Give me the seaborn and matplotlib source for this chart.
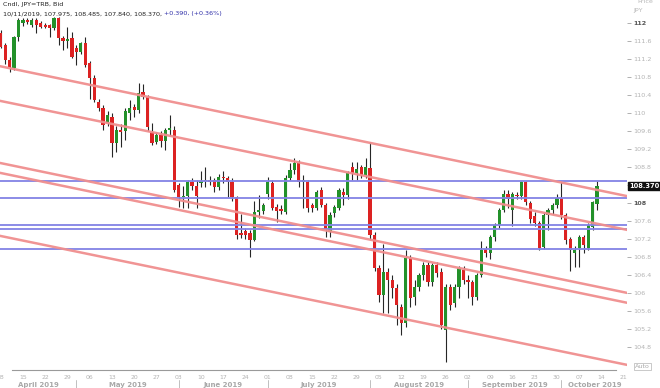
import numpy as np
import pandas as pd
import matplotlib
matplotlib.use("Agg")
import matplotlib.pyplot as plt
import seaborn as sns

sns.set_style("white")
plt.rcParams['font.family'] = ['DejaVu Sans']

# ---- daily candles, 08 Apr 2019 .. 11 Oct 2019 (weekday index) ----
opens = [111.78, 111.51, 111.18, 111.00, 111.69, 112.00, 112.07, 111.96, 112.07, 112.00,
         111.95, 111.95, 111.89, 112.11, 111.67, 111.60, 111.67, 111.44, 111.36, 111.56,
         111.11, 110.78, 110.24, 110.11, 109.78, 109.90, 109.33, 109.62, 109.60, 110.00,
         110.13, 110.06, 110.47, 110.36, 109.58, 109.36, 109.51, 109.38, 109.62, 109.62,
         108.40, 108.13, 108.15, 108.47, 108.38, 108.45, 108.48, 108.50, 108.50, 108.36,
         108.58, 108.55, 108.47, 108.13, 107.33, 107.38, 107.33, 107.18, 107.80, 107.82,
         108.20, 108.44, 107.91, 107.87, 107.80, 108.56, 108.73, 108.89, 108.47, 108.47,
         107.95, 107.89, 108.29, 107.96, 107.36, 107.78, 107.89, 108.24, 108.18, 108.80,
         108.67, 108.80, 108.62, 108.78, 107.30, 106.56, 105.96, 106.47, 106.29, 106.11,
         105.69, 105.33, 106.78, 105.91, 106.13, 106.40, 106.62, 106.24, 106.62, 106.47,
         105.18, 106.13, 105.78, 106.13, 106.51, 106.29, 106.24, 105.91, 106.40, 106.97,
         106.88, 107.24, 107.51, 107.84, 108.20, 107.85, 108.18, 108.15, 108.47, 108.00,
         107.72, 107.56, 107.02, 107.73, 107.84, 107.96, 108.11, 107.73, 107.20, 106.90,
         107.00, 107.24, 107.00, 107.47, 107.975]
highs = [111.85, 111.55, 111.25, 111.72, 112.11, 112.12, 112.12, 112.10, 112.10, 112.05,
         112.00, 111.98, 112.14, 112.14, 111.72, 111.90, 111.80, 111.50, 111.58, 111.69,
         111.15, 110.85, 110.32, 110.18, 110.05, 110.00, 109.70, 109.75, 110.10, 110.28,
         110.20, 110.67, 110.65, 110.40, 109.78, 109.58, 109.60, 109.66, 109.96, 109.70,
         108.45, 108.38, 108.50, 108.56, 108.50, 108.70, 108.80, 108.60, 108.55, 108.65,
         108.70, 108.60, 108.55, 108.15, 107.75, 107.45, 107.40, 108.05, 108.18, 108.00,
         108.58, 108.50, 107.98, 107.95, 108.62, 108.89, 109.00, 108.95, 108.62, 108.52,
         108.00, 108.30, 108.35, 108.00, 107.80, 107.95, 108.33, 108.33, 108.72, 108.90,
         108.90, 108.85, 109.00, 109.36, 107.35, 106.62, 107.10, 106.55, 106.40, 106.20,
         105.75, 106.96, 106.85, 106.30, 106.45, 106.68, 106.68, 106.67, 106.70, 106.55,
         106.20, 106.20, 106.20, 106.60, 106.60, 106.40, 106.30, 106.45, 107.15, 107.05,
         107.30, 107.55, 107.90, 108.30, 108.30, 108.25, 108.25, 108.49, 108.49, 108.05,
         107.80, 107.60, 107.80, 107.90, 108.00, 108.20, 108.47, 107.78, 107.25, 107.05,
         107.30, 107.30, 107.55, 108.05, 108.485]
lows = [111.44, 111.09, 110.91, 110.95, 111.60, 111.93, 111.98, 111.90, 111.78, 111.88,
        111.88, 111.69, 111.85, 111.52, 111.40, 111.45, 111.22, 111.07, 111.30, 111.02,
        110.31, 110.25, 110.05, 109.62, 109.70, 109.02, 109.13, 109.25, 109.40, 109.85,
        109.90, 110.00, 110.30, 109.60, 109.28, 109.30, 109.25, 109.18, 109.50, 108.25,
        107.91, 107.90, 107.90, 108.30, 107.90, 108.36, 108.35, 108.40, 108.25, 108.30,
        108.45, 108.13, 108.05, 107.20, 107.23, 107.20, 106.80, 107.15, 107.67, 107.75,
        108.10, 107.85, 107.58, 107.75, 107.75, 108.50, 108.65, 108.36, 107.90, 107.80,
        107.80, 107.85, 107.92, 107.24, 107.24, 107.70, 107.85, 107.96, 108.10, 108.50,
        108.50, 108.55, 108.55, 107.20, 106.50, 105.80, 105.55, 105.55, 105.90, 105.29,
        105.07, 105.25, 105.70, 105.73, 106.05, 106.30, 106.15, 106.15, 106.35, 105.20,
        104.47, 105.62, 105.70, 105.90, 106.20, 105.90, 105.73, 105.85, 106.35, 106.80,
        106.75, 107.15, 107.45, 107.80, 107.90, 107.50, 108.10, 108.10, 107.95, 107.55,
        107.50, 106.95, 106.98, 107.40, 107.75, 107.90, 107.65, 107.10, 106.50, 106.58,
        106.58, 106.90, 106.95, 107.40, 107.840]
closes = [111.47, 111.18, 111.02, 111.69, 112.07, 112.07, 112.02, 112.07, 111.96, 111.91,
          111.91, 111.89, 112.11, 111.67, 111.60, 111.65, 111.24, 111.36, 111.56, 111.07,
          110.78, 110.29, 110.11, 109.73, 109.96, 109.33, 109.62, 109.58, 110.05, 110.10,
          110.06, 110.44, 110.36, 109.69, 109.33, 109.51, 109.38, 109.62, 109.66, 108.29,
          108.13, 108.16, 108.47, 108.38, 108.16, 108.48, 108.50, 108.47, 108.36, 108.58,
          108.55, 108.47, 108.13, 107.29, 107.30, 107.29, 107.18, 107.80, 107.84, 107.96,
          108.47, 107.89, 107.82, 107.82, 108.56, 108.73, 108.89, 108.47, 108.50, 107.89,
          107.89, 108.24, 107.96, 107.40, 107.73, 107.91, 108.29, 108.18, 108.67, 108.67,
          108.75, 108.62, 108.80, 107.30, 106.56, 105.96, 106.47, 106.29, 106.11, 105.73,
          105.33, 106.78, 105.88, 106.13, 106.40, 106.62, 106.24, 106.62, 106.44, 105.29,
          106.13, 105.73, 106.13, 106.56, 106.29, 106.24, 105.91, 106.40, 106.95, 106.90,
          107.24, 107.51, 107.84, 108.20, 108.10, 108.20, 108.15, 108.47, 108.02, 107.65,
          107.55, 107.00, 107.73, 107.84, 107.96, 108.11, 107.73, 107.18, 106.96, 106.95,
          107.24, 107.07, 107.51, 108.02, 108.370]

# ---- annotations ----
hline_levels = [108.49, 108.11, 107.51, 107.42, 106.98]
trend_start_day = -0.16
trend_end_day = 140.9
trend_start_price = [111.04, 110.27, 108.89, 108.67, 107.27]
trend_end_price = [108.15, 107.40, 106.00, 105.78, 104.40]

week_labels = ["08", "15", "22", "29", "06", "13", "20", "27", "03", "10", "17", "24",
               "01", "08", "15", "22", "29", "05", "12", "19", "26", "02", "09", "16",
               "23", "30", "07", "14", "21"]
month_names = ["April 2019", "May 2019", "June 2019", "July 2019", "August 2019",
               "September 2019", "October 2019"]
month_start_days = [17, 40, 60, 83, 105, 126]

price_ticks = [round(104.8 + 0.4 * i, 1) for i in range(19)]
hidden_tick = 108.4   # covered by the last-price tag

RED = "#dc2222"
GREEN = "#23912a"
PINK = "#f08e8e"
BLUE = "#8585e6"

W, H = 660, 388
fig = plt.figure(figsize=(W / 100, H / 100), dpi=100)
ax = fig.add_axes([0, (H - 370) / H, 627 / W, 370 / H])

XMIN, XMAX = -0.157, 140.74
YMIN, YMAX = 104.289, 112.511

df = pd.DataFrame({"day": np.arange(len(opens)), "open": opens, "high": highs,
                   "low": lows, "close": closes})
up = df["close"] >= df["open"]
colors = np.where(up, GREEN, RED)

# wicks
ax.vlines(df["day"], df["low"], df["high"], color="#262626", lw=0.8, zorder=2)
# bodies
body = (df["close"] - df["open"]).abs().clip(lower=0.02)
ax.bar(df["day"], body, bottom=np.minimum(df["open"], df["close"]), width=0.72,
       color=colors, linewidth=0, zorder=3)

# horizontal levels
for lv in hline_levels:
    ax.axhline(lv, color=BLUE, lw=1.4, zorder=4, alpha=0.95)

# trend channels
tl = pd.DataFrame({
    "line": np.repeat(np.arange(len(trend_start_price)), 2),
    "day": np.tile([trend_start_day, trend_end_day], len(trend_start_price)),
    "price": np.ravel(np.column_stack([trend_start_price, trend_end_price])),
})
sns.lineplot(data=tl, x="day", y="price", units="line", estimator=None,
             color=PINK, lw=1.8, ax=ax, zorder=4, alpha=0.95, legend=False)

ax.set_xlim(XMIN, XMAX)
ax.set_ylim(YMIN, YMAX)
ax.set_xlabel("")
ax.set_ylabel("")

# y axis on right
ax.yaxis.tick_right()
ax.set_yticks(price_ticks)
ax.set_yticklabels(["" if abs(v - hidden_tick) < 1e-6 else f"{v:g}" for v in price_ticks])
ax.tick_params(axis="y", direction="out", length=3, width=0.7, color="#b0b0b0",
               pad=1.5, labelsize=4.6, labelcolor="#b3b3b3")
for t, v in zip(ax.get_yticklabels(), price_ticks):
    if v in (112.0, 108.0):
        t.set_color("#555555")
        t.set_fontweight("bold")

# x axis
week_days = [5 * i for i in range(len(week_labels))]
ax.set_xticks(week_days)
ax.set_xticklabels(week_labels)
ax.tick_params(axis="x", direction="out", length=2, width=0.6, color="#aaaaaa",
               pad=1.5, labelsize=4.4, labelcolor="#b3b3b3")

for s in ["left", "top", "right"]:
    ax.spines[s].set_visible(False)
ax.spines["bottom"].set_color("#9a9a9a")
ax.spines["bottom"].set_linewidth(0.8)
ax.spines["bottom"].set_bounds(2.5, 138.3)

# month labels and separators
def day_to_px(d):
    return (d - XMIN) / (XMAX - XMIN) * 627

bounds = [XMIN] + month_start_days + [141.2]
for i, name in enumerate(month_names):
    x0 = max(day_to_px(bounds[i]), 0)
    x1 = day_to_px(bounds[i + 1]) if i < len(month_names) - 1 else 629
    xc = (x0 + x1) / 2
    fig.text(xc / W, 1 - 385 / H, name, ha="center", va="center", fontsize=5.0,
             color="#a8a8a8", fontweight="bold")
for d in month_start_days:
    xp = day_to_px(d) / W
    fig.add_artist(plt.Line2D([xp, xp], [1 - 380 / H, 1 - 388 / H],
                              color="#c0c0c0", lw=0.7))

# header
fig.text(3 / W, 1 - 4.5 / H, "Cndl, JPY=TRB, Bid", ha="left", va="center",
         fontsize=4.6, color="#222222")
t1 = fig.text(3 / W, 1 - 14 / H, "10/11/2019, 107.975, 108.485, 107.840, 108.370, ",
              ha="left", va="center", fontsize=4.6, color="#222222")
fig.canvas.draw()
bb = t1.get_window_extent(fig.canvas.get_renderer())
fig.text(bb.x1 / W, 1 - 14 / H, "+0.390, (+0.36%)", ha="left", va="center",
         fontsize=4.6, color="#2e2ea8")

# price / currency heading
fig.text(637 / W, 1 - 1.5 / H, "Price", ha="left", va="center", fontsize=4.6,
         color="#b8b8b8")
fig.text(633 / W, 1 - 10.5 / H, "JPY", ha="left", va="center", fontsize=4.6,
         color="#b8b8b8")

# last price tag
last = closes[-1]
ylast = 1 - (23 + (112 - last) * 45) / H
fig.text(629 / W, ylast, f"{last:.3f}", ha="left", va="center", fontsize=4.8,
         color="white", fontweight="bold",
         bbox=dict(boxstyle="square,pad=0.15", fc="#111111", ec="#111111"))

# Auto box
fig.text(635 / W, 1 - 366.5 / H, "Auto", ha="left", va="center", fontsize=4.6,
         color="#aaaaaa",
         bbox=dict(boxstyle="square,pad=0.12", fc="white", ec="#c0c0c0", lw=0.6))

fig.savefig("out.png", dpi=100)
